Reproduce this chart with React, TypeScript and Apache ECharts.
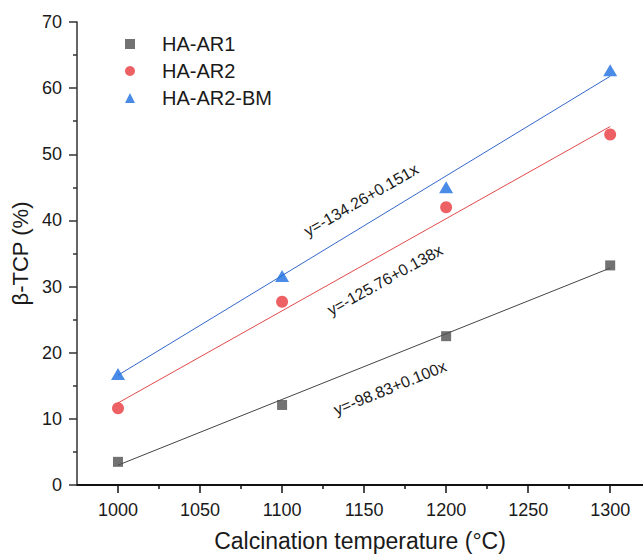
import React, { useEffect, useRef } from "react";
import * as echarts from "echarts";

const temps = [1000, 1100, 1200, 1300];
const ar1 = [3.5, 12.1, 22.5, 33.2];
const ar2 = [11.6, 27.7, 42.0, 53.0];
const ar2bm = [16.8, 31.6, 45.0, 62.7];

const fitX = [1000, 1300];
const fitAr1 = [3.0, 32.8];
const fitAr2 = [12.4, 54.2];
const fitAr2bm = [16.6, 61.8];

const xMajor = [1000, 1050, 1100, 1150, 1200, 1250, 1300];
const xMinor = [1025, 1075, 1125, 1175, 1225, 1275];

const eqAr1 = "y=-98.83+0.100x";
const eqAr2 = "y=-125.76+0.138x";
const eqAr2bm = "y=-134.26+0.151x";

const FONT = "'Liberation Sans', Arial, sans-serif";

function pairs(xs: number[], ys: number[]) {
  return xs.map((x, i) => [x, ys[i]]);
}

export default function App() {
  const ref = useRef<HTMLDivElement>(null);
  useEffect(() => {
    if (!ref.current) return;
    const chart = echarts.init(ref.current, undefined, { renderer: "svg" });
    const txt = "#1a1a1a";
    chart.setOption({
      animation: false,
      backgroundColor: "#ffffff",
      textStyle: { fontFamily: FONT },
      grid: { left: 77, right: 0, top: 22, bottom: 72, containLabel: false, outerBoundsMode: "none" },
      legend: {
        orient: "vertical",
        left: 125,
        top: 34,
        padding: 0,
        itemWidth: 10,
        itemHeight: 10,
        itemGap: 7,
        data: ["HA-AR1", "HA-AR2", "HA-AR2-BM"],
        textStyle: { fontSize: 20, color: txt, fontFamily: FONT, padding: [0, 0, 0, 22] },
      },
      xAxis: [
        {
          type: "value",
          min: 975,
          max: 1320,
          position: "bottom",
          name: "Calcination temperature (°C)",
          nameLocation: "middle",
          nameGap: 44,
          nameTextStyle: { fontSize: 23, color: txt, fontFamily: FONT },
          axisLine: { show: true, onZero: false, lineStyle: { color: "#111", width: 2 } },
          axisTick: { show: true, customValues: xMajor, length: 8, lineStyle: { color: "#111", width: 1.5 } },
          axisLabel: {
            customValues: xMajor,
            fontSize: 18,
            color: txt,
            margin: 16,
            fontFamily: FONT,
            formatter: (v: number) => String(v),
          },
          splitLine: { show: false },
        },
        {
          type: "value",
          min: 975,
          max: 1320,
          position: "bottom",
          axisLine: { show: false, onZero: false },
          axisTick: { show: true, customValues: xMinor, length: 4, lineStyle: { color: "#111", width: 1.5 } },
          axisLabel: { show: false },
          splitLine: { show: false },
        },
      ],
      yAxis: {
        type: "value",
        min: 0,
        max: 70,
        interval: 10,
        name: "β-TCP (%)",
        nameLocation: "middle",
        nameGap: 45,
        nameTextStyle: { fontSize: 22, color: txt, fontFamily: FONT },
        axisLine: { show: true, lineStyle: { color: "#333", width: 1.5 } },
        axisTick: { show: true, length: 8, lineStyle: { color: "#333", width: 1.5 } },
        minorTick: { show: true, splitNumber: 2, length: 4, lineStyle: { color: "#333", width: 1.5 } },
        axisLabel: { fontSize: 18, color: txt, margin: 15, fontFamily: FONT },
        splitLine: { show: false },
      },
      series: [
        {
          name: "fit1",
          type: "line",
          data: pairs(fitX, fitAr1),
          symbol: "none",
          silent: true,
          lineStyle: { color: "#444", width: 1 },
          z: 1,
        },
        {
          name: "fit2",
          type: "line",
          data: pairs(fitX, fitAr2),
          symbol: "none",
          silent: true,
          lineStyle: { color: "#e04a4a", width: 1 },
          z: 1,
        },
        {
          name: "fit3",
          type: "line",
          data: pairs(fitX, fitAr2bm),
          symbol: "none",
          silent: true,
          lineStyle: { color: "#3467c8", width: 1 },
          z: 1,
        },
        {
          name: "HA-AR1",
          type: "scatter",
          data: pairs(temps, ar1),
          symbol: "rect",
          symbolSize: 10,
          itemStyle: { color: "#4f4f4f" },
          z: 3,
        },
        {
          name: "HA-AR2",
          type: "scatter",
          data: pairs(temps, ar2),
          symbol: "circle",
          symbolSize: 12,
          itemStyle: { color: "#e8383d" },
          z: 3,
        },
        {
          name: "HA-AR2-BM",
          type: "scatter",
          data: pairs(temps, ar2bm),
          symbol: "triangle",
          symbolSize: [14, 12],
          itemStyle: { color: "#1c6ee0" },
          z: 3,
        },
      ],
      graphic: [
        {
          type: "text",
          x: 361,
          y: 200,
          rotation: (30 * Math.PI) / 180,
          style: { text: eqAr2bm, fontSize: 16, fontFamily: FONT, fill: txt, align: "center", verticalAlign: "middle" },
        },
        {
          type: "text",
          x: 385,
          y: 280,
          rotation: (29 * Math.PI) / 180,
          style: { text: eqAr2, fontSize: 16, fontFamily: FONT, fill: txt, align: "center", verticalAlign: "middle" },
        },
        {
          type: "text",
          x: 390,
          y: 388,
          rotation: (22 * Math.PI) / 180,
          style: { text: eqAr1, fontSize: 16, fontFamily: FONT, fill: txt, align: "center", verticalAlign: "middle" },
        },
      ],
    });
    return () => chart.dispose();
  }, []);
  return (
    <div
      ref={ref}
      style={{ position: "fixed", left: 0, top: 0, width: 643, height: 557, background: "#fff" }}
    />
  );
}
